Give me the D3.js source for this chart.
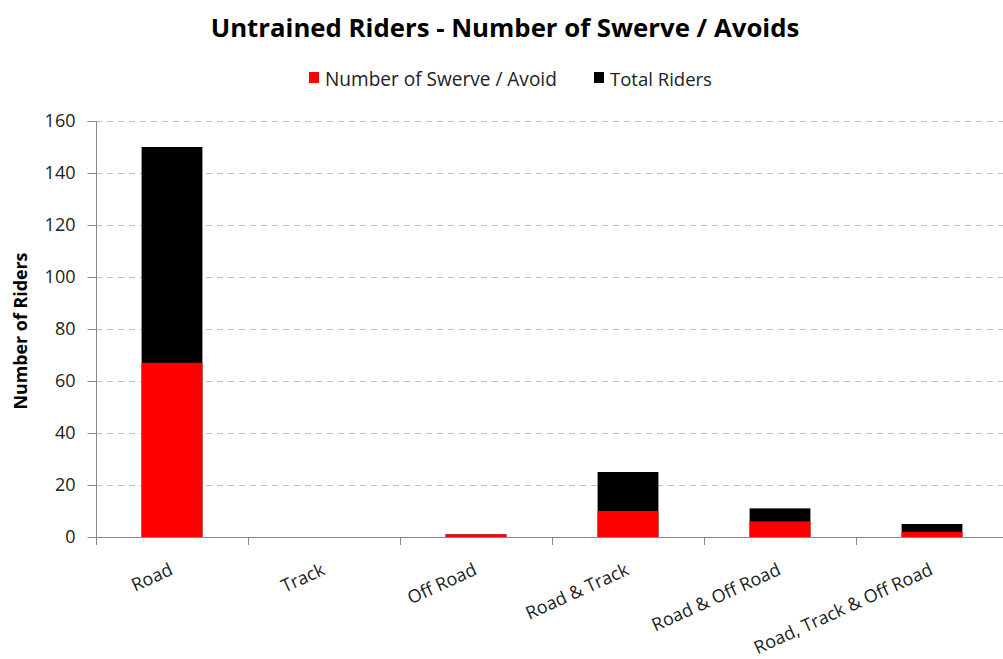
<!DOCTYPE html>
<html><head><meta charset="utf-8">
<script src="https://cdn.jsdelivr.net/npm/d3@7"></script>
<style>body{margin:0;background:#fff}svg{display:block}</style>
</head><body>
<svg id="c" width="1003" height="659"></svg>
<script>
const categories = ["Road","Track","Off Road","Road & Track","Road & Off Road","Road, Track & Off Road"];
const swerveAvoid = [67, 0, 1, 10, 6, 2];
const totalRiders = [150, 0, 1, 25, 11, 5];
const yTicks = [0,20,40,60,80,100,120,140,160];
const seriesNames = ["Number of Swerve / Avoid","Total Riders"];
const seriesColors = ["#ff0000","#000000"];

const svg = d3.select("#c");
const font = "'Open Sans', 'DejaVu Sans', sans-serif";
const L = 96, R = 1008, T = 121, B = 537;

function fit(sel, width){
  const w = sel.node().getComputedTextLength();
  const fs = +sel.attr("font-size");
  sel.attr("font-size", (fs*width/w).toFixed(2));
}

const y = d3.scaleLinear().domain([0,160]).range([B,T]);
const xBand = d3.scaleBand().domain(categories).range([L,R]).padding(0);
const xBar = d3.scaleBand().domain(categories).range([L,R]).paddingInner(0.6).paddingOuter(0.3);

// gridlines
svg.append("g").selectAll("line").data(yTicks.filter(d=>d>0)).join("line")
  .attr("x1",L).attr("x2",1003).attr("y1",d=>y(d)+0.5).attr("y2",d=>y(d)+0.5)
  .attr("stroke","#c0c0c0").attr("stroke-dasharray","6,5").attr("stroke-width",1);

// bars: total behind, swerve in front
const rows = categories.map((c,i)=>({c, s:swerveAvoid[i], t:totalRiders[i]}));
svg.append("g").selectAll("rect").data(rows).join("rect")
  .attr("x",d=>xBar(d.c)).attr("width",xBar.bandwidth())
  .attr("y",d=>y(d.t)).attr("height",d=>y(0)-y(d.t)).attr("fill",seriesColors[1]);
svg.append("g").selectAll("rect").data(rows).join("rect")
  .attr("x",d=>xBar(d.c)).attr("width",xBar.bandwidth())
  .attr("y",d=>y(d.s)).attr("height",d=>y(0)-y(d.s)).attr("fill",seriesColors[0]);

// y axis
const ya = svg.append("g").attr("transform",`translate(${L+0.5},0)`)
  .call(d3.axisLeft(y).tickValues(yTicks).tickSize(9).tickPadding(12));
ya.select(".domain").attr("stroke","#888").attr("d",`M-9,${T+0.5}H0V${B+0.5}`);
ya.selectAll(".tick line").attr("stroke","#888");
ya.selectAll(".tick text").attr("font-family",font).attr("font-size",18).attr("fill","#222");

// x axis
const xg = svg.append("g");
xg.append("line").attr("x1",L).attr("x2",1003).attr("y1",B+0.5).attr("y2",B+0.5).attr("stroke","#888");
const tickXs = categories.map(c=>xBand(c)).concat([R]);
xg.selectAll("line.t").data(tickXs).join("line").attr("class","t")
  .attr("x1",d=>d+0.5).attr("x2",d=>d+0.5).attr("y1",B).attr("y2",B+8).attr("stroke","#888");
xg.selectAll("text").data(categories).join("text")
  .attr("transform",d=>`translate(${xBand(d)+xBand.bandwidth()/2+2},${B+37}) rotate(-24.5)`)
  .attr("text-anchor","end").attr("font-family",font).attr("font-size",18).attr("fill","#222")
  .text(d=>d);

// y title
const yt = svg.append("text").attr("transform","translate(27,331) rotate(-90)")
  .attr("text-anchor","middle").attr("font-family",font).attr("font-weight","bold")
  .attr("font-size",16).attr("fill","#000").text("Number of Riders");
fit(yt, 157);

// title
const title = svg.append("text").attr("x",505).attr("y",37).attr("text-anchor","middle")
  .attr("font-family",font).attr("font-weight","bold").attr("font-size",24).attr("fill","#000")
  .text("Untrained Riders - Number of Swerve / Avoids");
fit(title, 589);

// legend
const legX = [309, 594];
const legW = [232, 102];
seriesNames.forEach((n,i)=>{
  svg.append("rect").attr("x",legX[i]).attr("y",72).attr("width",10).attr("height",11).attr("fill",seriesColors[i]);
  const t = svg.append("text").attr("x",legX[i]+16).attr("y",86).attr("font-family",font).attr("font-size",18)
    .attr("fill","#222").text(n);
  fit(t, legW[i]);
});
</script>
</body></html>
